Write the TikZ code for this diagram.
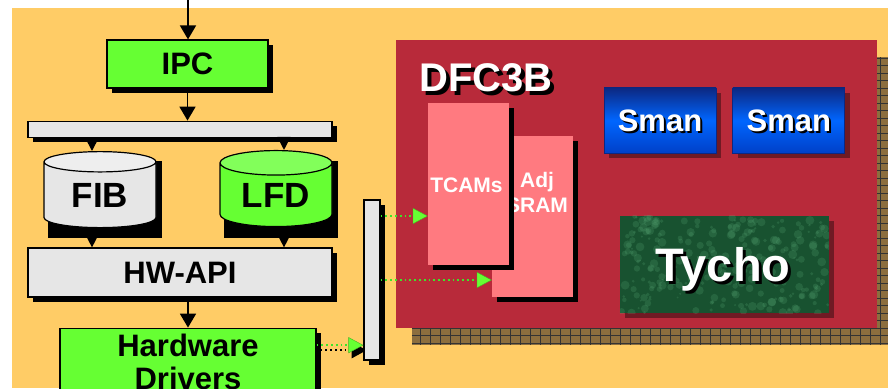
\documentclass[tikz,border=0pt]{standalone}
\usepackage{fontspec}
\setmainfont{Liberation Sans}
\usetikzlibrary{shapes.geometric, arrows.meta, positioning, shadows, calc, backgrounds}
\definecolor{bgorange}{RGB}{255,204,102}
\definecolor{boxgreen}{RGB}{102,255,51}
\definecolor{capgreen}{RGB}{130,255,90}
\definecolor{boxgray}{RGB}{230,230,230}
\definecolor{capgray}{RGB}{238,238,238}
\definecolor{dfcred}{RGB}{184,42,58}
\definecolor{gridbrown}{RGB}{140,110,62}
\definecolor{shadowred}{RGB}{112,26,36}
\definecolor{chipsalmon}{RGB}{255,122,128}
\definecolor{smantop}{RGB}{12,40,130}
\definecolor{smanmid}{RGB}{0,102,255}
\definecolor{smanbot}{RGB}{0,64,200}
\definecolor{tychodark}{RGB}{24,82,48}
\definecolor{tycholight}{RGB}{90,170,120}
\definecolor{linkgreen}{RGB}{60,230,40}
\definecolor{headgreen}{RGB}{102,255,51}
\tikzset{
  hardshadow/.style={
    drop shadow={shadow xshift=5pt, shadow yshift=-5pt,
                 fill=black, opacity=1}
  },
  redshadow/.style={
    drop shadow={shadow xshift=5pt, shadow yshift=-5pt,
                 fill=shadowred, opacity=1}
  },
  swbox/.style={
    rectangle, draw=black, line width=1.2pt, fill=#1,
    hardshadow, inner sep=0pt, align=center
  },
  drum/.style={
    cylinder, shape border rotate=90, aspect=0.36,
    draw=black, line width=1.2pt,
    minimum width=112pt, minimum height=76pt, inner sep=0pt
  },
  store/.style={
    drum, cylinder uses custom fill,
    font=\fontsize{35}{38}\selectfont\bfseries
  },
  chip/.style={
    rectangle, fill=chipsalmon, hardshadow,
    minimum width=81pt, inner sep=0pt
  },
  engine/.style={
    rectangle, draw=smantop, line width=0.8pt,
    top color=smantop, bottom color=smanbot, middle color=smanmid,
    redshadow, minimum width=112pt, minimum height=65pt
  },
  flow/.style={-{Triangle[length=14pt, width=16pt]}, line width=1.8pt},
  tap/.style={-{Triangle[length=13pt, width=13pt]}, line width=1.8pt},
  link/.style={
    draw=linkgreen, line width=1.8pt, dash pattern=on 1.8pt off 3pt,
    -{Triangle[length=15pt, width=16pt, fill=headgreen,
               color=headgreen!70!black, line width=0.4pt]}
  },
  linkshade/.style={
    draw=black, line width=1.8pt, dash pattern=on 1.8pt off 3pt,
    -{Triangle[length=15pt, width=16pt]}
  },
  whitetext/.style={text=white, inner sep=0pt, anchor=base},
  blacktext/.style={text=black, inner sep=0pt, anchor=base}
}

\begin{document}
\begin{tikzpicture}[x=1pt, y=1pt]

\useasboundingbox (0,0) rectangle (888,388);
\clip (0,0) rectangle (888,388);

% ═══════════════════════════════════════════════════════════════════
% SOFTWARE STACK  (left)
% ═══════════════════════════════════════════════════════════════════

\node[swbox=boxgreen, minimum width=161pt, minimum height=48pt,
      font=\fontsize{31}{34}\selectfont\bfseries]
  (ipc) at (187.5,324) {IPC};

\node[swbox=boxgray, minimum width=304pt, minimum height=16pt,
      below=32pt of ipc, xshift=-7.5pt]
  (bus) {};

% ── tables (shadow first, then the drum) ─────────────────────────
\node[drum, fill=black] (fibshade) at (105,188) {};
\node[drum, fill=black] (lfdshade) at (281,188) {};

\node[store, cylinder body fill=boxgray, cylinder end fill=capgray]
  (fib) at (100,193) {FIB};

\node[store, cylinder body fill=boxgreen, cylinder end fill=capgreen]
  (lfd) at (276,193) {LFD};

\node[swbox=boxgray, minimum width=304pt, minimum height=49pt,
      font=\fontsize{31}{34}\selectfont\bfseries]
  (hwapi) at (180,115.5) {HW-API};

\node[swbox=boxgreen, minimum width=256pt, minimum height=68pt,
      below=30pt of hwapi, xshift=8pt,
      font=\fontsize{31}{33}\selectfont\bfseries]
  (drivers) {Hardware\\Drivers};

% ── entry from above ─────────────────────────────────────────────
\coordinate (entry) at (188,388);

% ═══════════════════════════════════════════════════════════════════
% DFC3B CARD  (right)
% ═══════════════════════════════════════════════════════════════════

\node[rectangle, fill=dfcred, minimum width=481pt, minimum height=288pt]
  (dfc) at (636.5,204) {};

\node[blacktext, font=\fontsize{40}{44}\selectfont\bfseries]
  (dfcshade) at (490,292) {DFC3B};
\node[whitetext, font=\fontsize{40}{44}\selectfont\bfseries]
  (dfclabel) at (486,296) {DFC3B};

% ── memories ─────────────────────────────────────────────────────
\node[chip, minimum height=161pt] (adj) at (532.5,171.5) {};
\node[whitetext, align=center, font=\fontsize{21}{25}\selectfont\bfseries]
  (adjlabel) at (537,175.5) {Adj\\SRAM};

\node[chip, minimum height=162pt] (tcams) at (468.5,204) {};
\node[whitetext, font=\fontsize{21}{24}\selectfont\bfseries]
  (tcamslabel) at (466.5,195) {TCAMs};

% ── engines ──────────────────────────────────────────────────────
\node[engine] (sman1) at (660,267.5) {};
\node[engine, right=16pt of sman1] (sman2) {};

\foreach \e in {sman1, sman2} {
  \node[blacktext, font=\fontsize{31}{34}\selectfont\bfseries]
    (\e shade) at ([shift={(2pt,-13.5pt)}]\e.center) {Sman};
  \node[whitetext, font=\fontsize{31}{34}\selectfont\bfseries]
    (\e label) at ([yshift=-11.5pt]\e.center) {Sman};
}

\node[rectangle, fill=tychodark, redshadow,
      minimum width=209pt, minimum height=97pt]
  (tycho) at (724.5,123.5) {};

% mottled texture
\begin{scope}
  \clip (tycho.south west) rectangle (tycho.north east);
  \pgfmathsetseed{17}
  \foreach \k in {1,...,260}
    \fill[tycholight, opacity=0.22]
      ($(tycho.south west)+({209*rnd},{97*rnd})$) circle ({1+3.5*rnd});
\end{scope}

\node[blacktext, font=\fontsize{47}{50}\selectfont\bfseries]
  (tychoshade) at (726,103) {Tycho};
\node[whitetext, font=\fontsize{47}{50}\selectfont\bfseries]
  (tycholabel) at (723,106) {Tycho};

% ═══════════════════════════════════════════════════════════════════
% LINKS
% ═══════════════════════════════════════════════════════════════════

% Software stack
\draw[flow] (entry) -- (entry |- ipc.north);
\draw[flow] (ipc.south) -- (ipc.south |- bus.north);
\draw[tap] ([xshift=-8pt]fib.north |- bus.south) -- ([xshift=-8pt]fib.north);
\draw[tap] ([xshift=8pt]lfd.north |- bus.south) -- ([xshift=8pt]lfd.north);
\draw[tap] ([xshift=-8pt]fib.south) -- ([xshift=-8pt]fib.south |- hwapi.north);
\draw[tap] ([xshift=8pt]lfd.south) -- ([xshift=8pt]lfd.south |- hwapi.north);
\draw[flow] (drivers.north |- hwapi.south) -- (drivers.north);

% Drivers → card connector
\coordinate (drvout) at ([yshift=17pt]drivers.east);
\coordinate (tcamsin) at ([yshift=-32pt]tcams.west);
\coordinate (adjin) at ([yshift=-63.5pt]adj.west);

\draw[linkshade] ([shift={(4pt,-5pt)}]drvout) -- ++(46pt,0);

\node[swbox=boxgray, minimum width=16pt, minimum height=160pt]
  (conn) at (372,108) {};

\draw[link] (drvout) -- (drvout -| conn.west);
\draw[link] (tcamsin -| conn.east) -- (tcamsin);
\draw[link] (adjin -| conn.east) -- (adjin);

% ═══════════════════════════════════════════════════════════════════
% BACKGROUND  — panel and card shadow
% ═══════════════════════════════════════════════════════════════════
\begin{pgfonlayer}{background}
  \fill[bgorange] (12,0) rectangle (888,380);

  \coordinate (gridsw) at ([shift={(16pt,-17pt)}]dfc.south west);
  \coordinate (gridne) at ([shift={(16pt,-17pt)}]dfc.north east);
  \fill[gridbrown] (gridsw) rectangle (gridne);
  \draw[black!80, line width=0.6pt, xstep=10pt, ystep=7.5pt]
    (gridsw) grid (gridne);
\end{pgfonlayer}

\end{tikzpicture}
\end{document}
